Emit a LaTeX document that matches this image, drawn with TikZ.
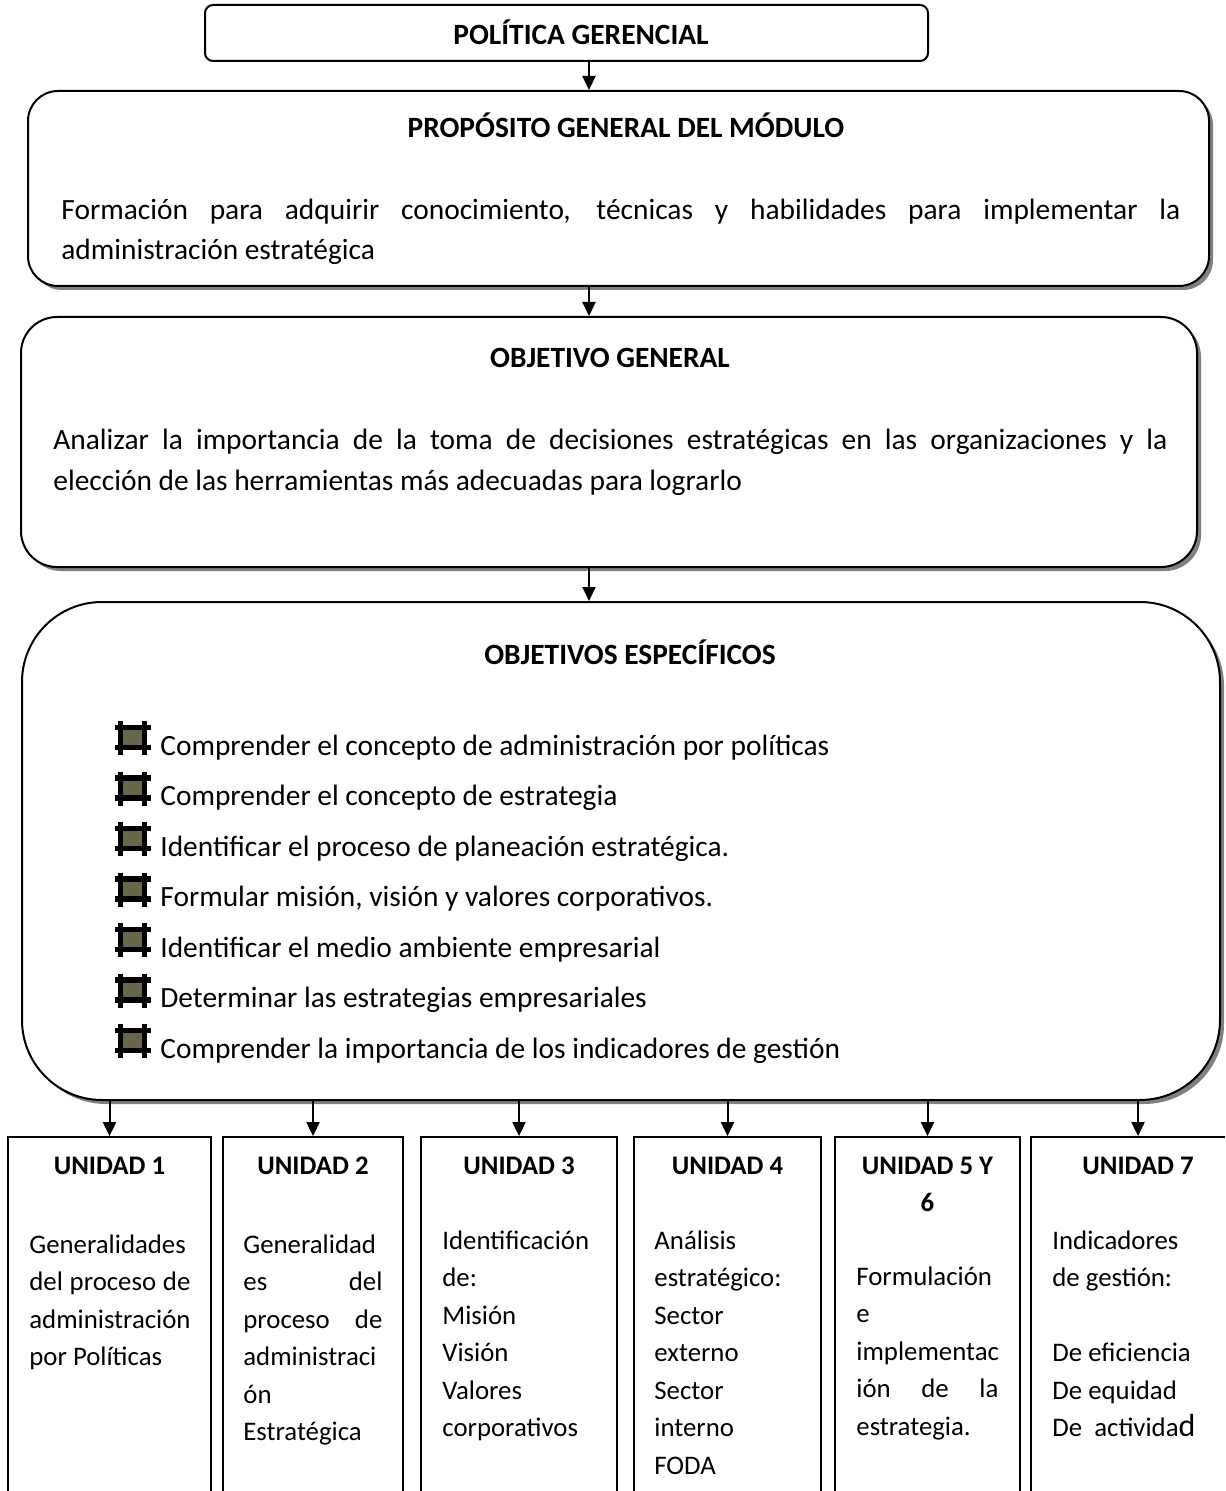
\documentclass[tikz,border=0pt]{standalone}
\usepackage{fontspec}
\setmainfont{Carlito}
\usetikzlibrary{arrows.meta,shadows}
\definecolor{shadowgray}{RGB}{128,128,128}
\definecolor{olivefill}{RGB}{104,102,74}
\begin{document}
\begin{tikzpicture}[x=0.5pt,y=-0.5pt,
  box/.style={draw,line width=1pt,fill=white,inner sep=0pt},
  sbox/.style={box,drop shadow={shadow xshift=2pt,shadow yshift=-2pt,fill=shadowgray,opacity=1}},
  ubox/.style={draw,line width=0.9pt,inner sep=0pt,minimum height=196.5pt},
  arr/.style={line width=1pt,-{Triangle[width=6.5pt,length=7pt]}},
  txt/.style={inner sep=0pt,font=\fontsize{14.7}{17}\selectfont},
  ttl/.style={inner sep=0pt,font=\fontsize{14.7}{17}\selectfont\bfseries},
  utxt/.style={inner sep=0pt,font=\fontsize{13.4}{16}\selectfont},
  uttl/.style={inner sep=0pt,font=\fontsize{13.4}{16}\selectfont\bfseries},
  hashbullet/.pic={
    \fill[olivefill] (5.5,-27.5) rectangle (29.5,-7.5);
    \draw[line width=2.8pt] (5.5,-34) -- (5.5,0);
    \draw[line width=2.8pt] (29.5,-34) -- (29.5,0);
    \draw[line width=2.8pt] (0,-27.5) -- (36,-27.5);
    \draw[line width=2.8pt] (0,-7.5) -- (36,-7.5);
  }
]
\clip (0,0) rectangle (1225,1491);
\fill[white] (0,0) rectangle (1225,1491);

% Politica gerencial
\node[box,rounded corners=4pt,minimum width=361.5pt,minimum height=28pt] (pol) at (566.5,33) {};
\node[ttl,anchor=base] (polt) at (581,45) {POLÍTICA GERENCIAL};

% Proposito
\node[sbox,rounded corners=15pt,minimum width=590.5pt,minimum height=97.5pt] (prop) at (618.5,188.5) {};
\node[ttl,anchor=base] (propt) at (626,138) {PROPÓSITO GENERAL DEL MÓDULO};
\node[txt,anchor=base west] (propl1) at (61,220) {\makebox[559.5pt][s]{Formación para adquirir conocimiento, técnicas y habilidades para implementar la}};
\node[txt,anchor=base west] (propl2) at (61,260) {administración estratégica};

% Objetivo general
\node[sbox,rounded corners=18pt,minimum width=588pt,minimum height=125pt] (og) at (609,442) {};
\node[ttl,anchor=base] (ogt) at (610,368) {OBJETIVO GENERAL};
\node[txt,anchor=base west] (ogl1) at (53,450) {\makebox[557pt][s]{Analizar la importancia de la toma de decisiones estratégicas en las organizaciones y la}};
\node[txt,anchor=base west] (ogl2) at (53,491) {elección de las herramientas más adecuadas para lograrlo};

% Objetivos especificos
\node[sbox,rounded corners=40pt,minimum width=599pt,minimum height=249pt] (oe) at (621,851) {};
\node[ttl,anchor=base] (oet) at (630,664) {OBJETIVOS ESPECÍFICOS};
\foreach \t [count=\i] in {
  Comprender el concepto de administración por políticas,
  Comprender el concepto de estrategia,
  Identificar el proceso de planeación estratégica.,
  {Formular misión, visión y valores corporativos.},
  Identificar el medio ambiente empresarial,
  Determinar las estrategias empresariales,
  Comprender la importancia de los indicadores de gestión}
{
  \pic (b\i) at (115,{755+50.5*(\i-1)}) {hashbullet};
  \node[txt,anchor=base west] (oel\i) at (160,{755+50.5*(\i-1)}) {\t};
}

% main arrows
\coordinate (ax) at (589,0);
\draw[arr] (pol.south -| ax) -- (prop.north -| ax);
\draw[arr] (prop.south -| ax) -- (og.north -| ax);
\draw[arr] (og.south -| ax) -- (oe.north -| ax);

% unit boxes
\node[ubox,minimum width=101.5pt] (u1) at (109.5,1333.5) {};
\node[ubox,minimum width=90pt] (u2) at (313,1333.5) {};
\node[ubox,minimum width=98pt] (u3) at (519,1333.5) {};
\node[ubox,minimum width=93.5pt] (u4) at (727.5,1333.5) {};
\node[ubox,minimum width=92.5pt] (u5) at (927.5,1333.5) {};
\node[ubox,minimum width=107pt] (u6) at (1138,1333.5) {};
\foreach \u in {u1,u2,u3,u4,u5,u6}
  \draw[arr] (oe.south -| \u.north) -- (\u.north);

% unit titles
\node[uttl,anchor=base] (u1t) at (109.5,1174) {UNIDAD 1};
\node[uttl,anchor=base] (u2t) at (313,1174) {UNIDAD 2};
\node[uttl,anchor=base] (u3t) at (519,1174) {UNIDAD 3};
\node[uttl,anchor=base] (u4t) at (727.5,1174) {UNIDAD 4};
\node[uttl,anchor=base] (u5t) at (927.5,1174) {UNIDAD 5 Y};
\node[uttl,anchor=base] (u5t2) at (927.5,1211.5) {6};
\node[uttl,anchor=base] (u6t) at (1138,1174) {UNIDAD 7};

% unit bodies
\foreach \t [count=\i] in {Generalidades,\makebox[80.5pt][s]{del proceso de},administración,por Políticas}
  \node[utxt,anchor=base west] (u1l\i) at (29,{1253+37.5*(\i-1)}) {\t};
\foreach \t [count=\i] in {Generalidad,\makebox[69.5pt][s]{es del},\makebox[69.5pt][s]{proceso de},administraci,ón,Estratégica}
  \node[utxt,anchor=base west] (u2l\i) at (243,{1253+37.5*(\i-1)}) {\t};
\foreach \t [count=\i] in {Identificación,de:,Misión,Visión,Valores,corporativos}
  \node[utxt,anchor=base west] (u3l\i) at (442,{1249+37.5*(\i-1)}) {\t};
\foreach \t [count=\i] in {Análisis,estratégico:,Sector,externo,Sector,interno,FODA}
  \node[utxt,anchor=base west] (u4l\i) at (654,{1249+37.5*(\i-1)}) {\t};
\foreach \t [count=\i] in {Formulación,e,implementac,\makebox[71pt][s]{ión de la},estrategia.}
  \node[utxt,anchor=base west] (u5l\i) at (856,{1285+37.5*(\i-1)}) {\t};
\node[utxt,anchor=base west] (u6l1) at (1052,1249) {Indicadores};
\node[utxt,anchor=base west] (u6l2) at (1052,1286.5) {de gestión:};
\node[utxt,anchor=base west] (u6l3) at (1052,1361.5) {De eficiencia};
\node[utxt,anchor=base west] (u6l4) at (1052,1399) {De equidad};
\node[utxt,anchor=base west] (u6l5) at (1052,1436.5) {De\ \ activida{\fontsize{16}{17}\selectfont d}};
\end{tikzpicture}
\end{document}
